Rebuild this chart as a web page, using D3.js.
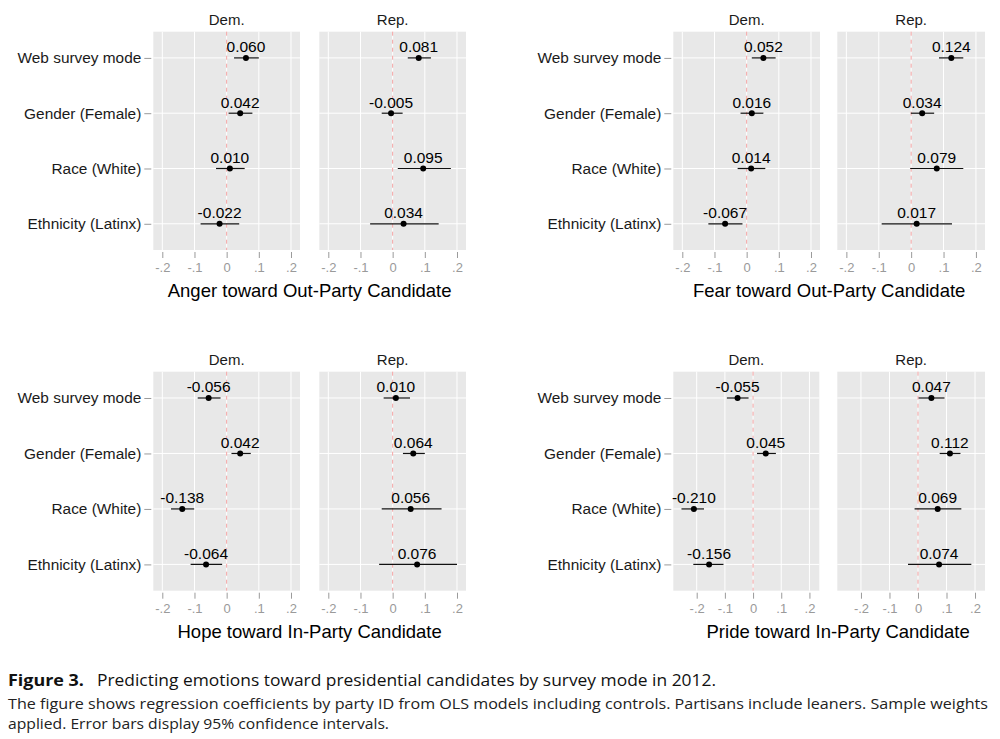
<!DOCTYPE html>
<html>
<head>
<meta charset="utf-8">
<script src="https://cdn.jsdelivr.net/npm/d3@7"></script>
<style>
  html, body { margin: 0; padding: 0; background: #ffffff; }
  svg { display: block; }
</style>
</head>
<body>
<svg id="chart" width="1000" height="739"></svg>
<script>
// ---------- DATA ----------
const predictors = ["Web survey mode", "Gender (Female)", "Race (White)", "Ethnicity (Latinx)"];
const parties = ["Dem.", "Rep."];
const outcomes = ["Anger toward Out-Party Candidate", "Fear toward Out-Party Candidate",
                  "Hope toward In-Party Candidate", "Pride toward In-Party Candidate"];
const xTicks = [-0.2, -0.1, 0, 0.1, 0.2];
const xTickLabels = ["-.2", "-.1", "0", ".1", ".2"];
const domainOut = [-0.228, 0.228];
const domainHope = [-0.228, 0.228];
const domainPride = [-0.283, 0.235];

const angerDem   = [0.060, 0.042, 0.010, -0.022];
const angerDemLo = [0.023, 0.006, -0.033, -0.081];
const angerDemHi = [0.100, 0.080, 0.056, 0.039];
const angerRep   = [0.081, -0.005, 0.095, 0.034];
const angerRepLo = [0.047, -0.034, 0.016, -0.070];
const angerRepHi = [0.119, 0.031, 0.181, 0.143];

const fearDem   = [0.052, 0.016, 0.014, -0.067];
const fearDemLo = [0.016, -0.019, -0.028, -0.119];
const fearDemHi = [0.090, 0.052, 0.058, -0.013];
const fearRep   = [0.124, 0.034, 0.079, 0.017];
const fearRepLo = [0.086, -0.001, -0.003, -0.091];
const fearRepHi = [0.161, 0.071, 0.161, 0.126];

const hopeDem   = [-0.056, 0.042, -0.138, -0.064];
const hopeDemLo = [-0.090, 0.015, -0.173, -0.112];
const hopeDemHi = [-0.019, 0.075, -0.101, -0.014];
const hopeRep   = [0.010, 0.064, 0.056, 0.076];
const hopeRepLo = [-0.028, 0.032, -0.034, -0.042];
const hopeRepHi = [0.054, 0.100, 0.152, 0.200];

const prideDem   = [-0.055, 0.045, -0.210, -0.156];
const prideDemLo = [-0.093, 0.014, -0.254, -0.212];
const prideDemHi = [-0.016, 0.081, -0.174, -0.105];
const prideRep   = [0.047, 0.112, 0.069, 0.074];
const prideRepLo = [0.002, 0.076, -0.012, -0.035];
const prideRepHi = [0.093, 0.149, 0.152, 0.187];

const captionTitle = "Figure 3.";
const captionLine1 = "Predicting emotions toward presidential candidates by survey mode in 2012.";
const captionLine2 = "The figure shows regression coefficients by party ID from OLS models including controls. Partisans include leaners. Sample weights";
const captionLine3 = "applied. Error bars display 95% confidence intervals.";

// ---------- LAYOUT ----------
const FONT = "'Liberation Sans', Arial, Helvetica, sans-serif";
const svg = d3.select("#chart");
const fmt = v => d3.format(".3f")(v).replace("\u2212", "-");

const blocks = [
  { title: outcomes[0], domain: domainOut, panels: [[153.3, 300], [319.3, 466]], y: [31.7, 250], tx: 0,
    data: [[angerDem, angerDemLo, angerDemHi], [angerRep, angerRepLo, angerRepHi]] },
  { title: outcomes[1], domain: domainOut, panels: [[673.3, 820], [837.3, 985]], y: [31.7, 250], tx: 0,
    data: [[fearDem, fearDemLo, fearDemHi], [fearRep, fearRepLo, fearRepHi]] },
  { title: outcomes[2], domain: domainHope, panels: [[153.3, 300], [319.3, 466]], y: [371.7, 590.7], tx: 0,
    data: [[hopeDem, hopeDemLo, hopeDemHi], [hopeRep, hopeRepLo, hopeRepHi]] },
  { title: outcomes[3], domain: domainPride, panels: [[673.3, 819.3], [837.3, 985]], y: [371.7, 590.7], tx: 9,
    data: [[prideDem, prideDemLo, prideDemHi], [prideRep, prideRepLo, prideRepHi]] }
];

blocks.forEach(b => {
  const y = d3.scalePoint().domain(predictors).range(b.y).padding(0.474);
  const g = svg.append("g");

  b.panels.forEach((px, pi) => {
    const x = d3.scaleLinear().domain(b.domain).range(px);
    const p = g.append("g");
    p.append("rect").attr("x", px[0]).attr("y", b.y[0])
      .attr("width", px[1] - px[0]).attr("height", b.y[1] - b.y[0]).attr("fill", "#e8e8e8");
    p.selectAll("line.vg").data(xTicks).join("line")
      .attr("x1", d => x(d)).attr("x2", d => x(d))
      .attr("y1", b.y[0]).attr("y2", b.y[1])
      .attr("stroke", "#ffffff").attr("stroke-width", 1);
    p.selectAll("line.hg").data(predictors).join("line")
      .attr("x1", px[0]).attr("x2", px[1])
      .attr("y1", d => y(d)).attr("y2", d => y(d))
      .attr("stroke", "#ffffff").attr("stroke-width", 1);
    p.append("line").attr("x1", x(0)).attr("x2", x(0))
      .attr("y1", b.y[0]).attr("y2", b.y[1])
      .attr("stroke", "#f4a3a3").attr("stroke-width", 1).attr("stroke-dasharray", "4,4");
    p.append("text").attr("x", (px[0] + px[1]) / 2).attr("y", b.y[0] - 7)
      .attr("text-anchor", "middle").attr("font-family", FONT).attr("font-size", 15)
      .attr("fill", "#1a1a1a").text(parties[pi]);
    const xa = d3.axisBottom(x).tickValues(xTicks)
      .tickFormat((d, i) => xTickLabels[i]).tickSize(6).tickPadding(5);
    const ax = p.append("g").attr("transform", `translate(0,${b.y[1] + 2})`).call(xa);
    ax.select(".domain").remove();
    ax.selectAll(".tick line").attr("stroke", "#9a9a9a");
    ax.selectAll(".tick text").attr("fill", "#9a9a9a").attr("font-family", FONT).attr("font-size", 13);

    const [est, lo, hi] = b.data[pi];
    const rows = predictors.map((name, i) => ({ name, est: est[i], lo: lo[i], hi: hi[i] }));
    p.selectAll("line.err").data(rows).join("line")
      .attr("x1", d => x(d.lo)).attr("x2", d => x(d.hi))
      .attr("y1", d => y(d.name)).attr("y2", d => y(d.name))
      .attr("stroke", "#111").attr("stroke-width", 1.2);
    p.selectAll("circle.pt").data(rows).join("circle")
      .attr("cx", d => x(d.est)).attr("cy", d => y(d.name)).attr("r", 3)
      .attr("fill", "#000");
    p.selectAll("text.lab").data(rows).join("text")
      .attr("x", d => x(d.est)).attr("y", d => y(d.name) - 5.5)
      .attr("text-anchor", "middle").attr("font-family", FONT).attr("font-size", 15.5)
      .attr("fill", "#000").text(d => fmt(d.est));

    if (pi === 0) {
      const ya = d3.axisLeft(y).tickSize(7).tickPadding(3);
      const ay = g.append("g").attr("transform", `translate(${px[0] - 2},0)`).call(ya);
      ay.select(".domain").remove();
      ay.selectAll(".tick line").attr("stroke", "#9a9a9a");
      ay.selectAll(".tick text").attr("fill", "#1a1a1a").attr("font-family", FONT).attr("font-size", 15.4);
    }
  });

  g.append("text")
    .attr("x", (b.panels[0][0] + b.panels[1][1]) / 2 + b.tx).attr("y", b.y[1] + 47)
    .attr("text-anchor", "middle").attr("font-family", FONT).attr("font-size", 18.5)
    .attr("fill", "#000").text(b.title);
});

// ---------- CAPTION ----------
const CAP = "'Open Sans', 'Noto Sans', sans-serif";
svg.append("text").attr("x", 8).attr("y", 686).attr("font-family", CAP).attr("font-size", 16.5)
  .attr("font-weight", "bold").attr("fill", "#111")
  .attr("textLength", 76).attr("lengthAdjust", "spacingAndGlyphs").text(captionTitle);
svg.append("text").attr("x", 97).attr("y", 686).attr("font-family", CAP).attr("font-size", 16.5)
  .attr("fill", "#111")
  .attr("textLength", 619).attr("lengthAdjust", "spacingAndGlyphs").text(captionLine1);
svg.append("text").attr("x", 8).attr("y", 709).attr("font-family", CAP).attr("font-size", 15)
  .attr("fill", "#222")
  .attr("textLength", 980).attr("lengthAdjust", "spacingAndGlyphs").text(captionLine2);
svg.append("text").attr("x", 8).attr("y", 729).attr("font-family", CAP).attr("font-size", 15)
  .attr("fill", "#222")
  .attr("textLength", 381).attr("lengthAdjust", "spacingAndGlyphs").text(captionLine3);
</script>
</body>
</html>
